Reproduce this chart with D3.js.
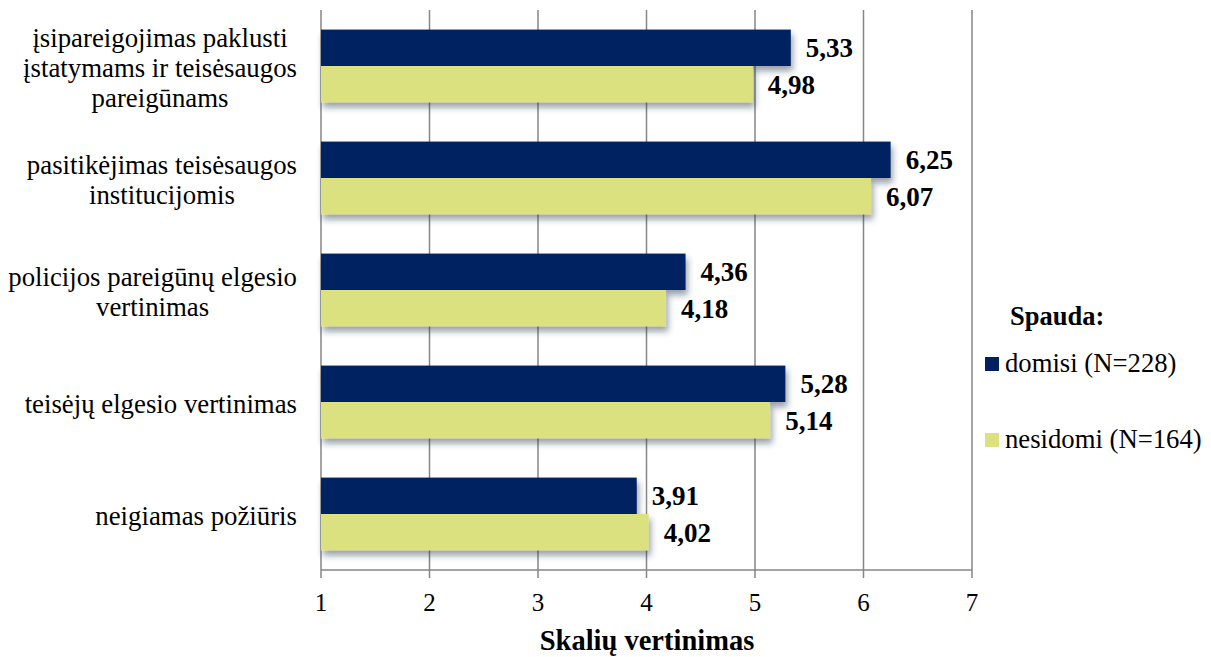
<!DOCTYPE html>
<html><head><meta charset="utf-8">
<script src="https://cdn.jsdelivr.net/npm/d3@7"></script>
<style>body{margin:0;background:#fff}svg{display:block}</style>
</head><body><svg id="c" width="1211" height="657" font-family="'Liberation Serif','Times New Roman',serif"></svg>
<script>
const categories = [
  ["įsipareigojimas paklusti","įstatymams ir teisėsaugos","pareigūnams"],
  ["pasitikėjimas teisėsaugos","institucijomis"],
  ["policijos pareigūnų elgesio","vertinimas"],
  ["teisėjų elgesio vertinimas"],
  ["neigiamas požiūris"]
];
const seriesNames = ["domisi (N=228)", "nesidomi (N=164)"];
const domisi = [5.33, 6.25, 4.36, 5.28, 3.91];
const nesidomi = [4.98, 6.07, 4.18, 5.14, 4.02];
const ticks = [1,2,3,4,5,6,7];
const legendTitle = "Spauda:";
const axisTitle = "Skalių vertinimas";
const colors = ["#002060", "#dce17f"];

const svg = d3.select("#c");
const x = d3.scaleLinear().domain([1,7]).range([321,972]);
const y = d3.scaleBand().domain(d3.range(categories.length)).range([10,570]).paddingInner(0.35).paddingOuter(0.175);
const ys = d3.scaleBand().domain([0,1]).range([0, y.bandwidth()]);

const defs = svg.append("defs");
const f = defs.append("filter").attr("id","sh").attr("x","-5%").attr("y","-20%").attr("width","115%").attr("height","170%");
f.append("feDropShadow").attr("dx",2).attr("dy",5).attr("stdDeviation",3).attr("flood-color","#1a2a40").attr("flood-opacity",0.45);

// gridlines
svg.append("g").selectAll("line").data(ticks).join("line")
  .attr("x1",d=>x(d)).attr("x2",d=>x(d)).attr("y1",10).attr("y2",578)
  .attr("stroke","#868686").attr("stroke-width",1.5);

// bars
const data = [domisi, nesidomi];
const g = svg.append("g");
categories.forEach((c,i)=>{
  data.forEach((s,j)=>{
    g.append("rect").attr("x",x(1)).attr("y",y(i)+ys(j))
     .attr("width",x(s[i])-x(1)).attr("height",ys.bandwidth())
     .attr("fill",colors[j]).attr("filter","url(#sh)");
  });
});
// value labels
categories.forEach((c,i)=>{
  data.forEach((s,j)=>{
    svg.append("text").attr("x",x(s[i])+15).attr("y",y(i)+ys(j)+ys.bandwidth()/2)
     .attr("dy","0.35em").attr("font-size",27).attr("font-weight","bold")
     .text(s[i].toFixed(2).replace(".",","));
  });
});

// x axis
svg.append("line").attr("x1",x(1)).attr("x2",x(7)).attr("y1",570).attr("y2",570).attr("stroke","#868686").attr("stroke-width",1.5);
svg.append("g").selectAll("text").data(ticks).join("text")
  .attr("x",d=>x(d)).attr("y",602).attr("dy","0.35em").attr("text-anchor","middle").attr("font-size",25)
  .text(d=>d);
svg.append("text").attr("x",647).attr("y",640).attr("dy","0.35em").attr("text-anchor","middle")
  .attr("font-size",28.5).attr("font-weight","bold").text(axisTitle);

// category labels: block right-aligned at 297, lines centered within block
const labelRight = 297;
categories.forEach((lines,i)=>{
  const cy = y(i)+y.bandwidth()/2 + 2;
  const lh = 30;
  const t = svg.append("text").attr("text-anchor","middle").attr("font-size",26.8);
  const spans = lines.map((l,k)=> t.append("tspan").attr("y",cy+(k-(lines.length-1)/2)*lh).attr("dy","0.35em").text(l));
  const maxW = d3.max(spans, s=>s.node().getComputedTextLength());
  spans.forEach(s=>s.attr("x", labelRight - maxW/2));
});

// legend
svg.append("text").attr("x",1010).attr("y",316).attr("dy","0.35em").attr("font-size",26.5).attr("font-weight","bold").text(legendTitle);
seriesNames.forEach((n,j)=>{
  const ly = 364 + j*76;
  svg.append("rect").attr("x",985).attr("y",ly-7).attr("width",14).attr("height",14).attr("fill",colors[j]);
  svg.append("text").attr("x",1005).attr("y",ly).attr("dy","0.3em").attr("font-size",26.7).text(n);
});
</script></body></html>
